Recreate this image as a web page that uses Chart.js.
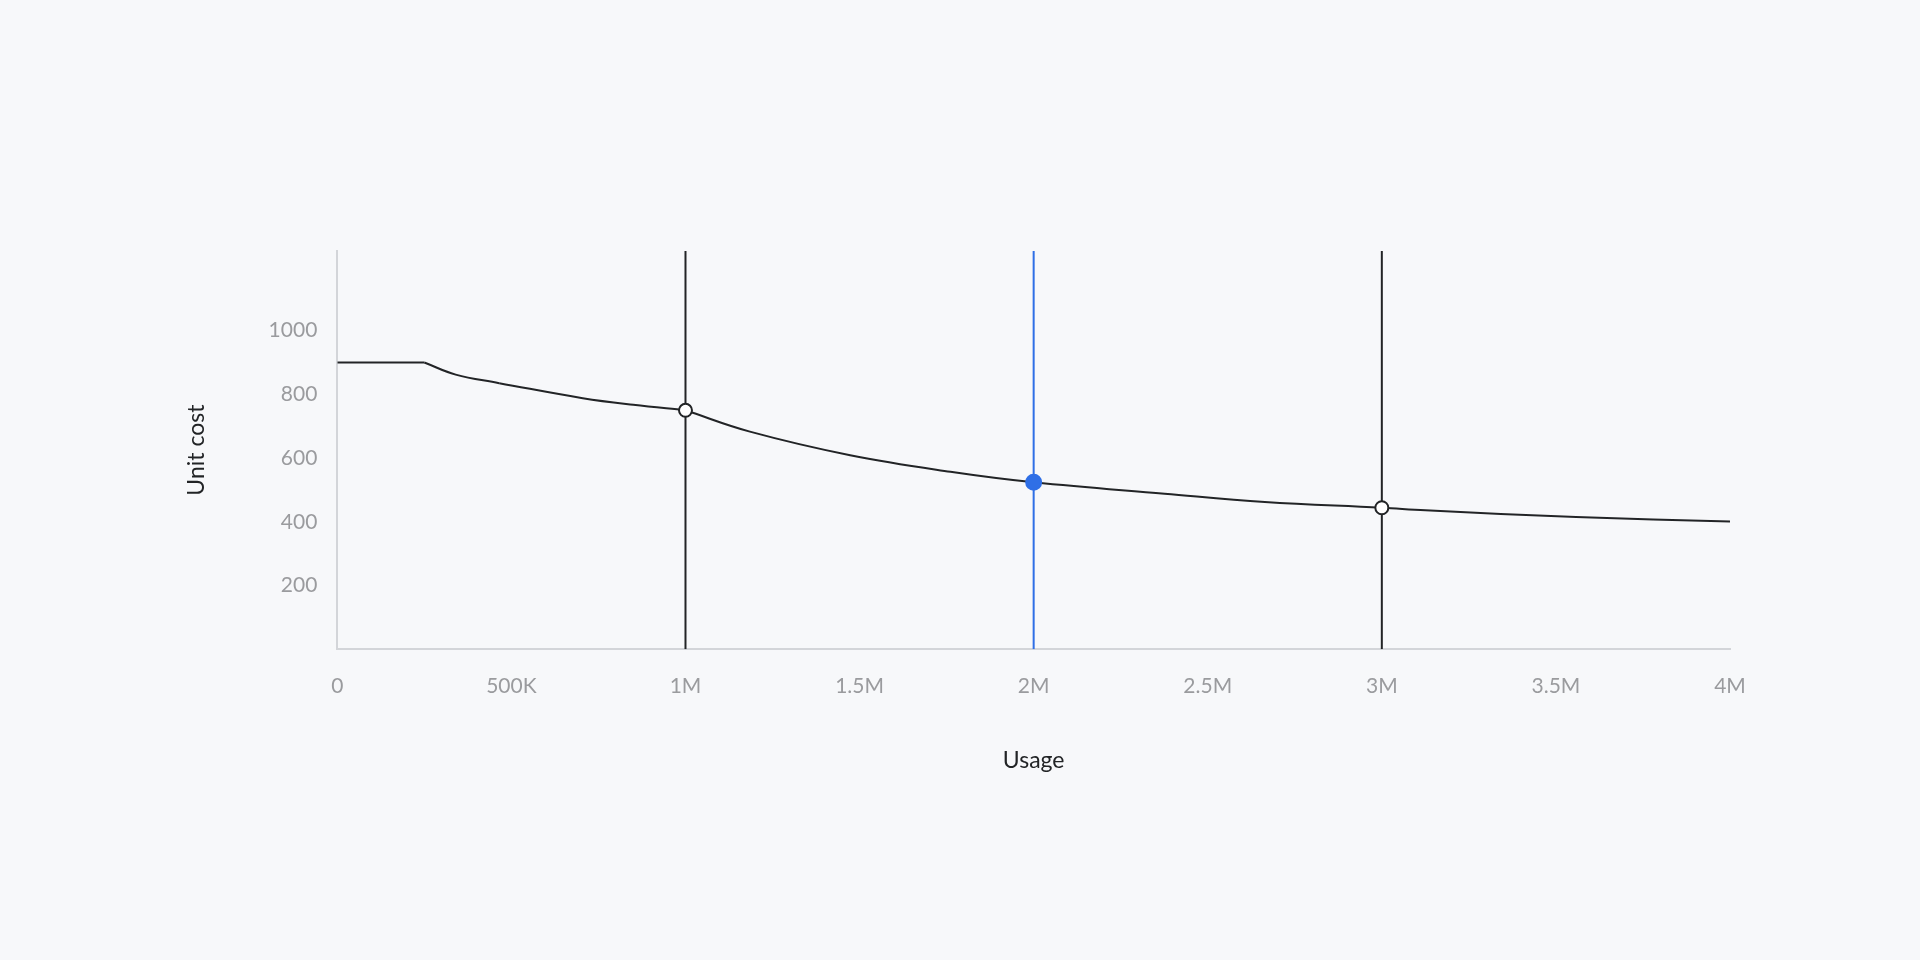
<!DOCTYPE html>
<html>
<head>
<meta charset="utf-8">
<script src="https://cdn.jsdelivr.net/npm/chart.js@4/dist/chart.umd.min.js"></script>
<style>
  html, body { margin: 0; padding: 0; background: #f7f8fa; }
  #wrap { width: 1920px; height: 960px; }
</style>
</head>
<body>
<div id="wrap"><canvas id="costChart"></canvas></div>
<script>
// --- data ---
const xTicks = [0, 500000, 1000000, 1500000, 2000000, 2500000, 3000000, 3500000, 4000000];
const xTickLabels = ['0', '500K', '1M', '1.5M', '2M', '2.5M', '3M', '3.5M', '4M'];
const yTicks = [200, 400, 600, 800, 1000];

// cost curve, split where the reference has corners
const usageFlat = [0, 250000];
const costFlat  = [900, 900];
const usageA = [250000, 340000, 465000];
const costA  = [900, 862, 835];
const usageB = [465000, 705000, 850000, 1000000];
const costB  = [835, 788, 767, 750];
const usageC = [1000000, 1185000, 1473000, 1761000, 2000000, 2376000, 2664000, 3000000, 3125000, 3558000, 4000000];
const costC  = [750, 683, 609, 557, 524, 488, 462, 444, 436, 415, 401];

// tier markers and their vertical guides
const markerUsage = [1000000, 2000000, 3000000];
const markerCost  = [750, 524, 444];
const markerActive = [false, true, false];

const yMax = 1250;
const ink = '#222426';
const blue = '#2f6fe6';

const toPts = (xs, ys) => xs.map((x, i) => ({ x: x, y: ys[i] }));

const curveStyle = {
    type: 'line',
    borderColor: ink,
    borderWidth: 2,
    pointRadius: 0,
    fill: false,
    tension: 0.4
};

const datasets = [];

// markers first so they sit on top
datasets.push({
    type: 'scatter',
    data: toPts(markerUsage, markerCost),
    pointRadius: markerActive.map(a => a ? 7.5 : 6.5),
    pointBackgroundColor: markerActive.map(a => a ? blue : '#ffffff'),
    pointBorderColor: markerActive.map(a => a ? blue : ink),
    pointBorderWidth: 2,
    showLine: false
});

datasets.push(Object.assign({}, curveStyle, { data: toPts(usageFlat, costFlat), tension: 0 }));
datasets.push(Object.assign({}, curveStyle, { data: toPts(usageA, costA) }));
datasets.push(Object.assign({}, curveStyle, { data: toPts(usageB, costB) }));
datasets.push(Object.assign({}, curveStyle, { data: toPts(usageC, costC) }));

markerUsage.forEach((u, i) => {
    datasets.push({
        type: 'line',
        data: [{ x: u, y: 0 }, { x: u, y: yMax }],
        borderColor: markerActive[i] ? blue : ink,
        borderWidth: 2,
        pointRadius: 0,
        fill: false
    });
});

const tickFont = { family: 'Lato, "Noto Sans", sans-serif', size: 21 };
const titleFont = { family: 'Lato, "Noto Sans", sans-serif', size: 23 };

new Chart(document.getElementById('costChart').getContext('2d'), {
    type: 'line',
    data: { datasets: datasets },
    options: {
        responsive: true,
        maintainAspectRatio: false,
        animation: false,
        layout: { padding: { left: 183, right: 190, top: 251, bottom: 186 } },
        plugins: {
            legend: { display: false },
            tooltip: { enabled: false }
        },
        scales: {
            x: {
                type: 'linear',
                min: 0,
                max: 4000000,
                afterBuildTicks: axis => { axis.ticks = xTicks.map(v => ({ value: v })); },
                ticks: {
                    color: '#9a9b9e',
                    font: tickFont,
                    padding: 24,
                    maxRotation: 0,
                    callback: v => xTickLabels[xTicks.indexOf(v)]
                },
                grid: { display: false, drawTicks: false },
                border: { color: '#d3d5d9', width: 2 },
                title: {
                    display: true,
                    text: 'Usage',
                    color: ink,
                    font: titleFont,
                    padding: { top: 24, bottom: 0 }
                }
            },
            y: {
                type: 'linear',
                min: 0,
                max: yMax,
                afterBuildTicks: axis => { axis.ticks = yTicks.map(v => ({ value: v })); },
                ticks: {
                    color: '#9a9b9e',
                    font: tickFont,
                    padding: 20,
                    callback: v => String(v)
                },
                grid: { display: false, drawTicks: false },
                border: { color: '#d3d5d9', width: 2 },
                title: {
                    display: true,
                    text: 'Unit cost',
                    color: ink,
                    font: titleFont,
                    padding: { top: 0, bottom: 38 }
                }
            }
        }
    }
});
</script>
</body>
</html>
